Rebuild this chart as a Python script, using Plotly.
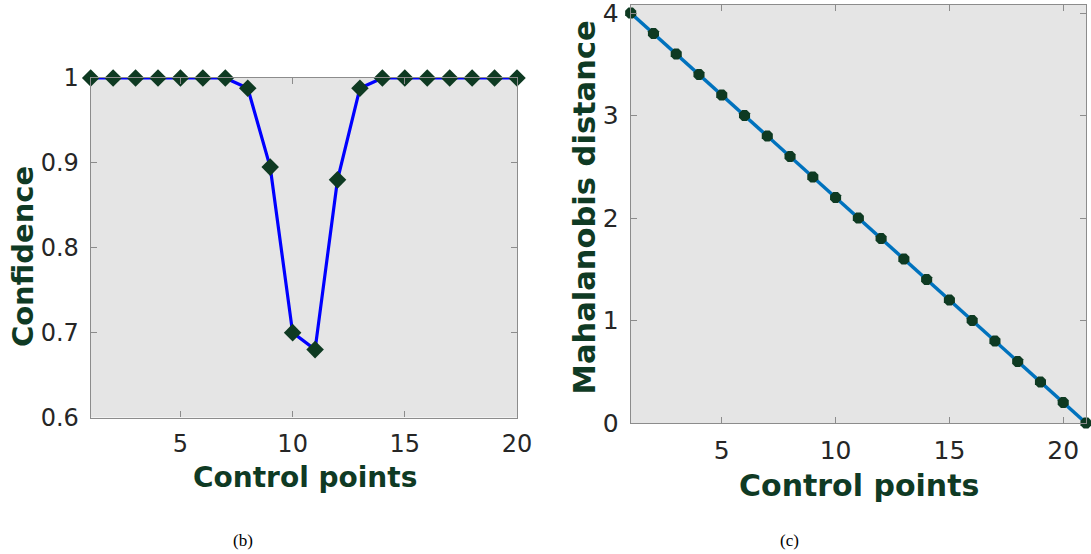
import plotly.graph_objects as go

# Data
x_conf = list(range(1, 21))
confidence = [1, 1, 1, 1, 1, 1, 1, 0.988, 0.895, 0.70, 0.68, 0.88, 0.988, 1, 1, 1, 1, 1, 1, 1]

x_maha = list(range(1, 22))
mahalanobis = [4.0, 3.8, 3.6, 3.4, 3.2, 3.0, 2.8, 2.6, 2.4, 2.2, 2.0, 1.8, 1.6, 1.4, 1.2, 1.0,
               0.8, 0.6, 0.4, 0.2, 0.0]

left_xticks = [5, 10, 15, 20]
left_yticks = [0.6, 0.7, 0.8, 0.9, 1]
left_yticklabels = ["0.6", "0.7", "0.8", "0.9", "1"]
right_xticks = [5, 10, 15, 20]
right_yticks = [0, 1, 2, 3, 4]

W, H = 1091, 554
marker_col = "#0e3a22"
title_col = "#0f3a24"
tick_col = "#262626"
FONT = "DejaVu Sans"


def px(x):
    return x / W


def py(y):
    return 1 - y / H


fig = go.Figure()
fig.add_trace(go.Scatter(
    x=x_conf, y=confidence, mode="lines+markers",
    line=dict(color="#0000ff", width=3.2),
    marker=dict(symbol="diamond", size=13.5, color=marker_col),
    cliponaxis=False, xaxis="x", yaxis="y", showlegend=False))
fig.add_trace(go.Scatter(
    x=x_maha, y=mahalanobis, mode="lines+markers",
    line=dict(color="#0072bd", width=3.5),
    marker=dict(symbol="octagon", size=12, color=marker_col),
    cliponaxis=False, xaxis="x2", yaxis="y2", showlegend=False))


def ax(size, standoff):
    return dict(showgrid=False, zeroline=False, showline=True, mirror="ticks",
                linecolor="#8c8c8c", linewidth=1.2, ticks="inside", ticklen=6,
                tickcolor="#8c8c8c", automargin=False, ticklabelstandoff=standoff,
                ticklabeloverflow="allow",
                tickfont=dict(family=FONT, color=tick_col, size=size))


fig.update_layout(
    width=W, height=H, margin=dict(l=0, r=0, t=0, b=0, autoexpand=False),
    paper_bgcolor="white", plot_bgcolor="#e5e5e5",
    xaxis=dict(domain=[px(90.7), px(517)], range=[1, 20], tickvals=left_xticks,
               anchor="y", **ax(24, 5)),
    yaxis=dict(domain=[py(417.5), py(78)], range=[0.6, 1], tickvals=left_yticks,
               ticktext=left_yticklabels, anchor="x", **ax(24, 6)),
    xaxis2=dict(domain=[px(630.7), px(1086)], range=[1, 21], tickvals=right_xticks,
                anchor="y2", **ax(25, 5)),
    yaxis2=dict(domain=[py(423), py(4.5)], range=[0, 4.083], tickvals=right_yticks,
                anchor="x2", **ax(25, 6)),
    annotations=[
        dict(text="<b>Control points</b>", x=px(304.5), y=py(477), xref="paper", yref="paper",
             xanchor="center", yanchor="middle", showarrow=False,
             font=dict(family=FONT, size=28, color=title_col)),
        dict(text="<b>Confidence</b>", x=px(23.6), y=py(256.5), xref="paper", yref="paper",
             xanchor="center", yanchor="middle", showarrow=False, textangle=-90,
             font=dict(family=FONT, size=29, color=title_col)),
        dict(text="<b>Control points</b>", x=px(858.5), y=py(485.5), xref="paper", yref="paper",
             xanchor="center", yanchor="middle", showarrow=False,
             font=dict(family=FONT, size=30, color=title_col)),
        dict(text="<b>Mahalanobis distance</b>", x=px(584.4), y=py(207), xref="paper",
             yref="paper", xanchor="center", yanchor="middle", showarrow=False, textangle=-90,
             font=dict(family=FONT, size=30.5, color=title_col)),
        dict(text="(b)", x=px(243), y=py(540), xref="paper", yref="paper",
             xanchor="center", yanchor="middle",
             showarrow=False, font=dict(family="Liberation Serif", size=17, color="black")),
        dict(text="(c)", x=px(789), y=py(540), xref="paper", yref="paper",
             xanchor="center", yanchor="middle",
             showarrow=False, font=dict(family="Liberation Serif", size=17, color="black")),
    ],
)

fig.write_html("out.html")
